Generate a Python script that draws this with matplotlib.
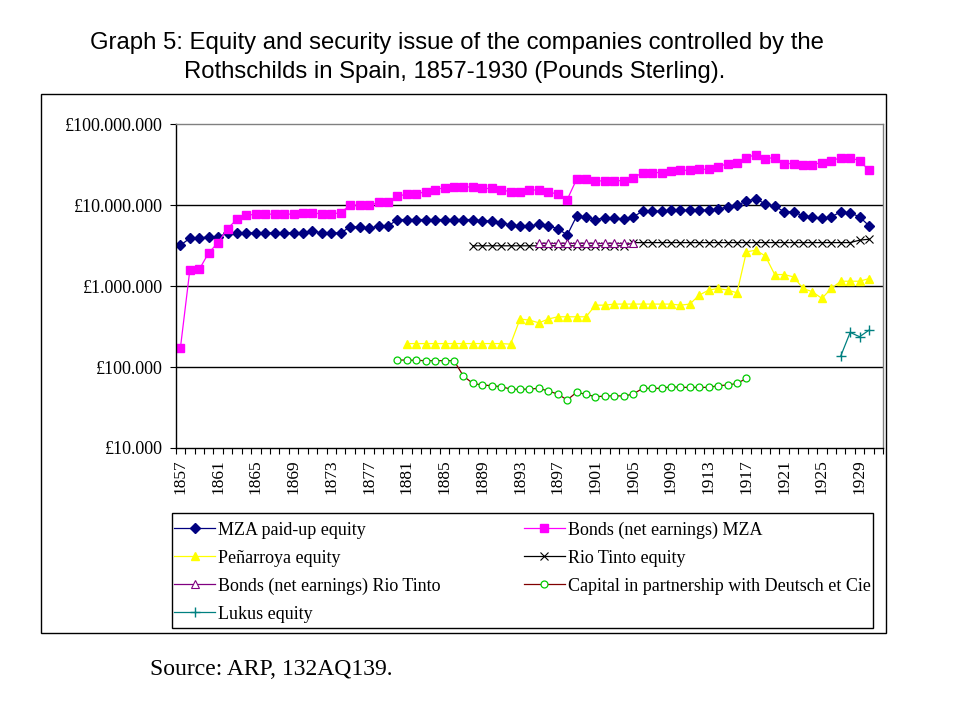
import matplotlib
matplotlib.use("Agg")
import matplotlib.pyplot as plt
from matplotlib.patches import Rectangle
from matplotlib.ticker import FixedLocator, FuncFormatter, NullLocator
import numpy as np

# values (pounds sterling)
mza_start = 1857
mza_equity = [3.2, 3.9, 3.9, 4.1, 4.05, 4.55, 4.55, 4.55, 4.55, 4.55, 4.55, 4.55,
              4.55, 4.55, 4.8, 4.55, 4.55, 4.55, 5.4, 5.4, 5.2, 5.5, 5.5, 6.65,
              6.65, 6.65, 6.65, 6.65, 6.65, 6.65, 6.65, 6.65, 6.4, 6.4, 6.1, 5.7,
              5.55, 5.55, 5.78, 5.56, 5.15, 4.27, 7.31, 7.18, 6.65, 6.98, 6.86, 6.7,
              7.18, 8.44, 8.44, 8.44, 8.67, 8.67, 8.67, 8.67, 8.67, 8.93, 9.53, 10.0,
              11.2, 12.1, 10.3, 9.8, 8.28, 8.28, 7.38, 7.18, 6.86, 7.18, 8.28, 8.04,
              7.18, 5.56]

mza_bonds_start = 1857
mza_bonds = [0.172, 1.58, 1.61, 2.58, 3.46, 5.15, 6.7, 7.5, 7.75, 7.75, 7.75, 7.75,
             7.75, 8.1, 8.1, 7.75, 7.75, 8.1, 10.0, 10.0, 10.0, 10.8, 10.8, 12.9,
             13.7, 13.9, 14.6, 15.6, 16.4, 16.8, 16.8, 16.8, 16.1, 16.1, 15.6, 14.6,
             14.6, 15.2, 15.6, 14.6, 13.7, 11.7, 20.9, 20.9, 19.8, 20.1, 20.1, 20.1,
             21.7, 25.3, 25.3, 25.3, 26.3, 27.0, 27.0, 27.8, 27.8, 29.7, 32.7, 33.6,
             38.7, 42.2, 37.7, 38.7, 32.7, 32.7, 31.2, 31.8, 33.6, 35.3, 38.7, 38.7,
             35.3, 27.0]

penarroya_start = 1881
penarroya = [0.195, 0.195, 0.195, 0.195, 0.195, 0.195, 0.195, 0.195, 0.195, 0.195,
             0.195, 0.192, 0.392, 0.38, 0.352, 0.392, 0.418, 0.418, 0.418, 0.418,
             0.582, 0.582, 0.60, 0.60, 0.60, 0.60, 0.60, 0.60, 0.60, 0.582, 0.60,
             0.774, 0.893, 0.936, 0.893, 0.828, 2.65, 2.78, 2.36, 1.39, 1.39, 1.30,
             0.936, 0.851, 0.705, 0.936, 1.15, 1.15, 1.15, 1.24]

riotinto_start = 1888
riotinto = [3.15] * 17 + [3.45] * 24 + [3.7, 3.8]

rt_bonds_start = 1895
rt_bonds = [3.45, 3.45, 3.45, 3.45, 3.45, 3.45, 3.45, 3.45, 3.45, 3.45, 3.45]

deutsch_start = 1880
deutsch = [0.122, 0.122, 0.121, 0.120, 0.120, 0.120, 0.120, 0.0774, 0.0628, 0.060,
           0.0589, 0.0572, 0.0535, 0.053, 0.0535, 0.0546, 0.0506, 0.0464, 0.0392,
           0.0488, 0.046, 0.043, 0.0438, 0.0442, 0.0438, 0.0464, 0.0546, 0.0546,
           0.0546, 0.0572, 0.0561, 0.0561, 0.0561, 0.0561, 0.0589, 0.060, 0.0628,
           0.0724]

lukus_start = 1927
lukus = [0.137, 0.268, 0.237, 0.286]

series = [
    ("MZA paid-up equity", mza_start, mza_equity,
     dict(color="#000080", marker="D", ms=5.5, mfc="#000080", mec="#000080")),
    ("Bonds (net earnings) MZA", mza_bonds_start, mza_bonds,
     dict(color="#FF00FF", marker="s", ms=5.5, mfc="#FF00FF", mec="#FF00FF")),
    ("Peñarroya equity", penarroya_start, penarroya,
     dict(color="#FFFF00", marker="^", ms=6, mfc="#FFFF00", mec="#FFFF00")),
    ("Rio Tinto equity", riotinto_start, riotinto,
     dict(color="black", marker="x", ms=6, mew=0.8)),
    ("Bonds (net earnings) Rio Tinto", rt_bonds_start, rt_bonds,
     dict(color="#800080", marker="^", ms=5.5, mfc="white", mec="#800080", mew=0.8)),
    ("Capital in partnership with Deutsch et Cie", deutsch_start, deutsch,
     dict(color="#800000", marker="o", ms=5, mfc="white", mec="#00CC00", mew=0.9)),
    ("Lukus equity", lukus_start, lukus,
     dict(color="#008080", marker="+", ms=7, mew=1.0)),
]

label_years = list(range(1857, 1930, 4))

serif = ["Liberation Serif", "DejaVu Serif"]
sans = ["Liberation Sans", "DejaVu Sans"]

fig = plt.figure(figsize=(9.6, 7.2), dpi=100)
ax = fig.add_axes([0.183, 0.3778, 0.737, 0.4496])

lines = {}
for name, start, vals, style in series:
    yrs = np.arange(start, start + len(vals))
    (ln,) = ax.plot(yrs, np.array(vals) * 1e6, lw=0.9, label=name, **style)
    lines[name] = ln

ax.set_yscale("log")
ax.set_ylim(1e4, 1e8)
ax.set_xlim(1856.5, 1931.5)

ax.yaxis.set_major_locator(FixedLocator([1e4, 1e5, 1e6, 1e7, 1e8]))
ax.yaxis.set_minor_locator(NullLocator())
ax.yaxis.set_major_formatter(FuncFormatter(lambda v, p: "£" + f"{int(round(v)):,}".replace(",", ".")))
for yv in [1e5, 1e6, 1e7]:
    ax.axhline(yv, color="black", lw=1.0, zorder=0.5)

ax.set_xticks(label_years)
ax.set_xticklabels([str(y) for y in label_years], rotation=90, family=serif, fontsize=12.5)
ax.xaxis.set_minor_locator(FixedLocator(np.arange(1856.5, 1932, 1.0)))
ax.tick_params(axis="x", which="major", length=0, pad=8)
ax.tick_params(axis="x", which="minor", length=4, width=0.8, direction="out")
ax.tick_params(axis="y", which="major", length=4, width=0.8, direction="out", pad=5)
for lab in ax.get_yticklabels():
    lab.set_family(serif)
    lab.set_fontsize(13)

ax.spines["left"].set_color("black")
ax.spines["bottom"].set_color("black")
ax.spines["top"].set_color("#808080")
ax.spines["right"].set_color("#808080")
for sp in ax.spines.values():
    sp.set_linewidth(1.0)

# outer chart border and legend box
fig.patches.append(Rectangle((0.0424, 0.1208), 0.880, 0.748, transform=fig.transFigure,
                             fill=False, edgecolor="black", lw=1.0))
fig.patches.append(Rectangle((0.1789, 0.1278), 0.7305, 0.1597, transform=fig.transFigure,
                             fill=False, edgecolor="black", lw=1.0))

order = ["MZA paid-up equity", "Peñarroya equity", "Bonds (net earnings) Rio Tinto",
         "Lukus equity", "Bonds (net earnings) MZA", "Rio Tinto equity",
         "Capital in partnership with Deutsch et Cie"]
fig.legend([lines[n] for n in order], order, ncol=2, loc="upper left",
           bbox_to_anchor=(0.181, 0.2756), frameon=False, borderpad=0,
           borderaxespad=0, numpoints=1, handlelength=2.3, handletextpad=0.15,
           columnspacing=4.6, labelspacing=0.6, prop={"family": serif, "size": 13})

fig.text(0.476, 0.9315, "Graph 5: Equity and security issue of the companies controlled by the",
         ha="center", va="baseline", family=sans, fontsize=17.2)
fig.text(0.474, 0.8913, "Rothschilds in Spain, 1857-1930 (Pounds Sterling).",
         ha="center", va="baseline", family=sans, fontsize=17.2)
fig.text(0.156, 0.0625, "Source: ARP, 132AQ139.", ha="left", va="baseline",
         family=serif, fontsize=17)

fig.savefig("out.png", dpi=100, facecolor="white")
